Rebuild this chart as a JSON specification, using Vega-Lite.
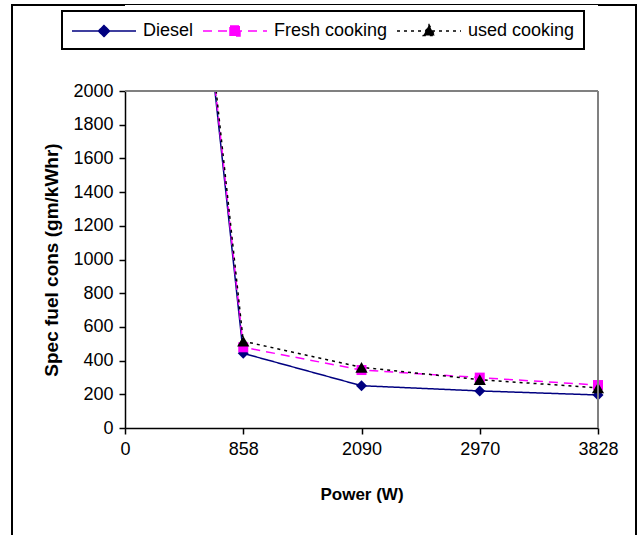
{
  "$schema": "https://vega.github.io/schema/vega-lite/v6.json",
  "width": 624,
  "height": 535,
  "padding": {"left": 12, "top": 5, "right": 3, "bottom": 0},
  "autosize": {"type": "none"},
  "background": "white",
  "config": {
    "view": {"stroke": "black", "strokeWidth": 2},
    "font": "Liberation Sans",
    "axis": {
      "labelFont": "Liberation Sans", "titleFont": "Liberation Sans",
      "labelColor": "black", "titleColor": "black",
      "domainColor": "black", "tickColor": "black",
      "labelFontSize": 18, "titleFontSize": 17, "titleFontWeight": "bold",
      "grid": false, "domainWidth": 1.5, "tickWidth": 1.5, "tickSize": 6
    }
  },
  "datasets": {
    "fuel": [
      {"power": 0, "fuel": "Diesel", "sfc": 6950},
      {"power": 858, "fuel": "Diesel", "sfc": 443},
      {"power": 2090, "fuel": "Diesel", "sfc": 251},
      {"power": 2970, "fuel": "Diesel", "sfc": 220},
      {"power": 3828, "fuel": "Diesel", "sfc": 196},
      {"power": 0, "fuel": "Fresh cooking", "sfc": 6980},
      {"power": 858, "fuel": "Fresh cooking", "sfc": 479},
      {"power": 2090, "fuel": "Fresh cooking", "sfc": 344},
      {"power": 2970, "fuel": "Fresh cooking", "sfc": 299},
      {"power": 3828, "fuel": "Fresh cooking", "sfc": 255},
      {"power": 0, "fuel": "used cooking", "sfc": 7000},
      {"power": 858, "fuel": "used cooking", "sfc": 515},
      {"power": 2090, "fuel": "used cooking", "sfc": 360},
      {"power": 2970, "fuel": "used cooking", "sfc": 287},
      {"power": 3828, "fuel": "used cooking", "sfc": 238}
    ],
    "frame": [{"k": 1}]
  },
  "data": {"name": "fuel"},
  "layer": [
    {
      "mark": {"type": "line", "clip": true, "strokeWidth": 1.5},
      "encoding": {
        "x": {
          "field": "power", "type": "ordinal",
          "scale": {"type": "point", "range": [113, 586], "padding": 0},
          "axis": {"title": "Power (W)", "labelAngle": 0, "offset": -112, "titlePadding": 28, "labelPadding": 6}
        },
        "y": {
          "field": "sfc", "type": "quantitative",
          "scale": {"domain": [0, 2000], "range": [423, 86], "nice": false},
          "axis": {"title": "Spec fuel cons (gm/kWhr)", "titleFontSize": 19, "format": "d", "values": [0, 200, 400, 600, 800, 1000, 1200, 1400, 1600, 1800, 2000], "offset": -113, "titlePadding": 11, "labelPadding": 6, "labelOverlap": false}
        },
        "color": {
          "field": "fuel", "type": "nominal",
          "scale": {"domain": ["Diesel", "Fresh cooking", "used cooking"], "range": ["#000080", "#FF00FF", "#000000"]},
          "legend": {
            "title": null, "orient": "none", "legendX": 50, "legendY": 6,
            "direction": "horizontal",
            "strokeColor": "black", "fillColor": "white",
            "padding": 9,
            "labelFont": "Liberation Sans", "labelFontSize": 18, "labelColor": "black",
            "symbolSize": 400, "symbolStrokeWidth": 1.5,
            "columnPadding": 6, "labelOffset": 50,
            "encode": {
              "legend": {"update": {"strokeWidth": {"value": 2}}},
              "symbols": {
                "update": {
                  "shape": {"signal": "datum.value === 'Diesel' ? 'M-1,0L5.4,0M2.2,-0.55L2.75,0L2.2,0.55L1.65,0Z' : datum.value === 'Fresh cooking' ? 'M-1,0L5.4,0M1.7,-0.5L2.7,-0.5L2.7,0.5L1.7,0.5Z' : 'M-1,0L5.4,0M2.2,-0.62L2.77,0.45L1.63,0.45Z'"},
                  "fill": {"signal": "datum.value === 'Diesel' ? '#000080' : datum.value === 'Fresh cooking' ? '#FF00FF' : '#000000'"},
                  "stroke": {"signal": "datum.value === 'Diesel' ? '#000080' : datum.value === 'Fresh cooking' ? '#FF00FF' : '#000000'"},
                  "strokeDash": {"signal": "datum.value === 'Diesel' ? [1, 0] : datum.value === 'Fresh cooking' ? [9, 6] : [3, 4]"}
                }
              }
            }
          }
        },
        "strokeDash": {
          "field": "fuel", "type": "nominal",
          "scale": {"domain": ["Diesel", "Fresh cooking", "used cooking"], "range": [[1, 0], [9, 6], [3, 4]]},
          "legend": null
        }
      }
    },
    {
      "transform": [{"filter": "datum.fuel === 'Diesel'"}],
      "mark": {"type": "point", "clip": true, "filled": true, "opacity": 1, "shape": "diamond", "size": 120},
      "encoding": {
        "x": {"field": "power", "type": "ordinal"},
        "y": {"field": "sfc", "type": "quantitative"},
        "color": {"field": "fuel", "type": "nominal"}
      }
    },
    {
      "transform": [{"filter": "datum.fuel === 'Fresh cooking'"}],
      "mark": {"type": "point", "clip": true, "filled": true, "opacity": 1, "shape": "square", "size": 100},
      "encoding": {
        "x": {"field": "power", "type": "ordinal"},
        "y": {"field": "sfc", "type": "quantitative"},
        "color": {"field": "fuel", "type": "nominal"}
      }
    },
    {
      "transform": [{"filter": "datum.fuel === 'used cooking'"}],
      "mark": {"type": "point", "clip": true, "filled": true, "opacity": 1, "shape": "triangle-up", "size": 150},
      "encoding": {
        "x": {"field": "power", "type": "ordinal"},
        "y": {"field": "sfc", "type": "quantitative"},
        "color": {"field": "fuel", "type": "nominal"}
      }
    },
    {
      "data": {"name": "frame"},
      "mark": {"type": "rect", "fill": "white", "clip": true},
      "encoding": {
        "x": {"datum": 0, "type": "ordinal"},
        "x2": {"datum": 3828},
        "y": {"datum": 2000, "type": "quantitative"},
        "y2": {"datum": 2520}
      }
    },
    {
      "data": {"name": "frame"},
      "mark": {"type": "rule", "color": "#808080", "strokeWidth": 2},
      "encoding": {
        "x": {"datum": 0, "type": "ordinal"},
        "x2": {"datum": 3828},
        "y": {"datum": 2000, "type": "quantitative"}
      }
    },
    {
      "data": {"name": "frame"},
      "mark": {"type": "rule", "color": "#808080", "strokeWidth": 2},
      "encoding": {
        "x": {"datum": 3828, "type": "ordinal"},
        "y": {"datum": 0, "type": "quantitative"},
        "y2": {"datum": 2000}
      }
    }
  ]
}
